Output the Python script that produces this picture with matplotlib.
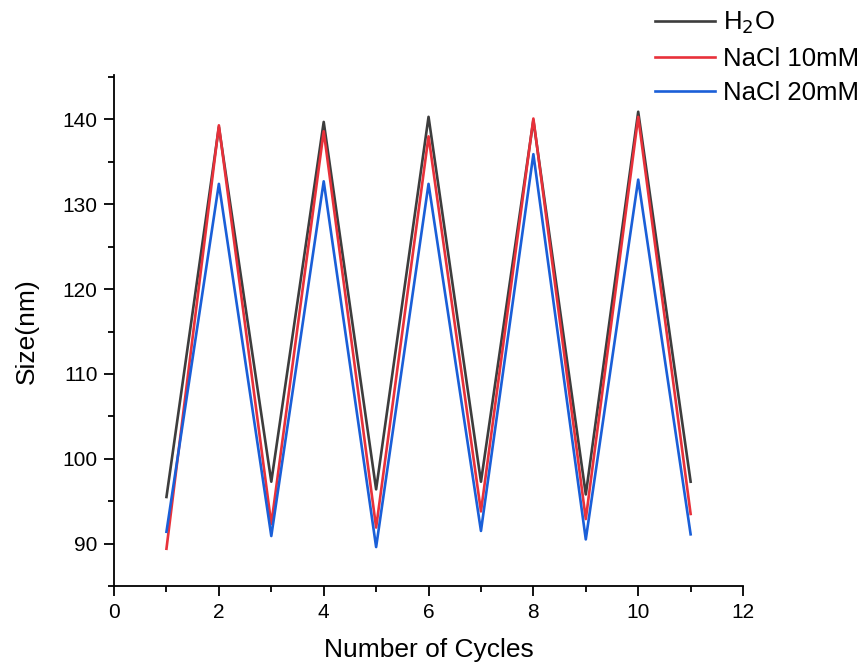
import numpy as np
import matplotlib.pyplot as plt
from matplotlib.ticker import MultipleLocator

plt.rcParams['font.family'] = ['Liberation Sans', 'DejaVu Sans']

cycles = np.arange(1, 12)
h2o = [95.5, 139.1, 97.3, 139.7, 96.4, 140.3, 97.3, 139.9, 95.8, 140.9, 97.3]
nacl10 = [89.4, 139.3, 92.3, 138.6, 91.9, 138.0, 93.8, 140.1, 92.9, 140.3, 93.5]
nacl20 = [91.4, 132.4, 90.9, 132.7, 89.6, 132.4, 91.5, 135.9, 90.5, 132.9, 91.1]

fig = plt.figure(figsize=(8.64, 6.66), dpi=100)
ax = fig.add_axes([0.132, 0.12, 0.728, 0.767])

ax.plot(cycles, h2o, color='#3d3d3d', lw=1.9, label='H$_2$O')
ax.plot(cycles, nacl10, color='#e8313a', lw=1.9, label='NaCl 10mM')
ax.plot(cycles, nacl20, color='#1a5fd8', lw=1.9, label='NaCl 20mM')

ax.set_xlim(0, 12)
ax.set_ylim(85, 145.2)
ax.xaxis.set_major_locator(MultipleLocator(2))
ax.xaxis.set_minor_locator(MultipleLocator(1))
ax.yaxis.set_major_locator(MultipleLocator(10))
ax.yaxis.set_minor_locator(MultipleLocator(5))
ax.tick_params(which='major', direction='out', length=7, width=1.3, labelsize=15, pad=5)
ax.tick_params(which='minor', direction='out', length=4, width=1.3)
for side in ['top', 'right']:
    ax.spines[side].set_visible(False)
for side in ['left', 'bottom']:
    ax.spines[side].set_linewidth(1.3)

ax.set_xlabel('Number of Cycles', fontsize=19, labelpad=12)
ax.set_ylabel('Size(nm)', fontsize=19, labelpad=17)

ax.legend(loc='upper left', bbox_to_anchor=(0.758, 0.985), bbox_transform=fig.transFigure,
          frameon=False, fontsize=18.5, handlelength=2.35, handletextpad=0.3,
          labelspacing=0.4, borderpad=0, borderaxespad=0)

fig.savefig('out.png')
